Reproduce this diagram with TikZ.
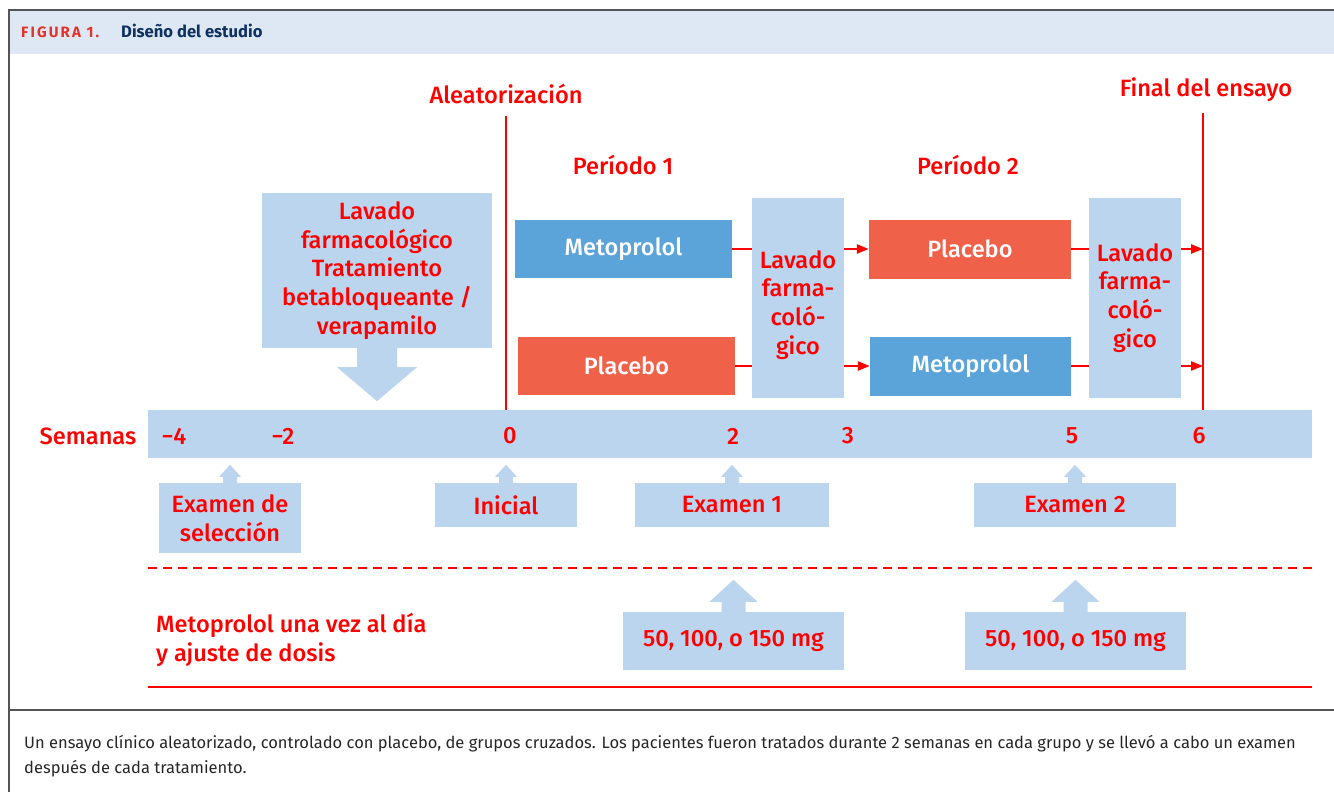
\documentclass[tikz,border=0pt]{standalone}
\usepackage{fontspec}
\setmainfont{Fira Sans}
\newfontfamily\medfont{Fira Sans Medium}
\usetikzlibrary{positioning, arrows.meta, calc}

\definecolor{rojo}{RGB}{255,0,0}
\definecolor{figrojo}{RGB}{228,49,43}
\definecolor{marino}{RGB}{14,50,96}
\definecolor{lav}{RGB}{188,213,238}
\definecolor{azul}{RGB}{91,164,218}
\definecolor{naranja}{RGB}{240,97,74}
\definecolor{cabecera}{RGB}{221,232,244}
\definecolor{marco}{RGB}{85,85,85}

\begin{document}
\begin{tikzpicture}[
    x=1pt, y=-1pt,
    txt/.style={font=\medfont\fontsize{23.6}{28.8}\selectfont, text=rojo, align=center, inner sep=0pt},
    block/.style={rectangle, fill=lav, txt},
    meto/.style={block, fill=azul, text=white},
    plac/.style={block, fill=naranja, text=white},
    redl/.style={draw=rojo, line width=2.5pt},
    arr/.style={redl, -{Triangle[length=12pt, width=9pt]}},
]
\clip (0,0) rectangle (1334,792);

% Frame and header
\fill[cabecera] (10,11) rectangle (1334,54);
\draw[marco, line width=2pt] (9,800) -- (9,10) -- (1340,10);
\draw[marco, line width=2pt] (9,710) -- (1340,710);
\node[anchor=base west, inner sep=0pt, text=figrojo,
      font=\fontsize{15}{15}\selectfont\bfseries\addfontfeature{LetterSpace=14}] (fig) at (21,38) {FIGURA 1.};
\node[anchor=base west, inner sep=0pt, text=marino,
      font=\fontsize{16.6}{16}\selectfont\bfseries] (tit) at (121,38) {Diseño del estudio};

% Timeline
\node[block, minimum width=1164pt, minimum height=48pt] (bar) at (730,434) {};
\node[txt] (sem) at (88,436) {Semanas};
\foreach \x/\t [count=\i] in {174/−4, 283/−2, 510/0, 733/2, 848/3, 1072/5, 1199/6}
    \node[txt] (w\i) at (\x,436) {\t};

% Randomisation and end of trial
\node[txt] (ale) at (506,94) {Aleatorización};
\node[txt] (fin) at (1206,90) {Final del ensayo};
\coordinate (a0) at (506,116);
\coordinate (f0) at (1203,113);
\draw[redl] (a0) -- (a0 |- bar.north);
\draw[redl] (f0) -- (f0 |- bar.north);

\node[txt] (per1) at (623,165) {Período 1};
\node[txt] (per2) at (968,165) {Período 2};

% Washout before randomisation
\node[block, minimum width=230pt, minimum height=155pt] (lav0) at (377,270.5)
    {Lavado\\farmacológico\\Tratamiento\\betabloqueante /\\verapamilo};
\fill[lav] ($(lav0.south)+(-20,0)$) -- ++(0,19) -- ++(-20,0) -- ++(40,34)
    -- ++(40,-34) -- ++(-20,0) -- ++(0,-19) -- cycle;

% Treatment periods
\node[meto, minimum width=217pt, minimum height=58pt] (m1) at (623.5,249) {Metoprolol};
\node[plac, minimum width=217pt, minimum height=58pt] (p1) at (626.5,366) {Placebo};
\node[block, minimum width=92pt, minimum height=200pt] (lav1) at (798,298) {};
\node[txt] (lav1t) at ($(lav1)+(0,7)$) {Lavado\\farma-\\coló-\\gico};
\node[plac, minimum width=202pt, minimum height=59pt] (p2) at (970,249) {Placebo};
\node[meto, minimum width=201pt, minimum height=59pt] (m2) at (970.5,366) {Metoprolol};
\node[block, minimum width=92pt, minimum height=200pt] (lav2) at (1135,298) {};
\node[txt] (lav2t) at ($(lav2)+(0,0)$) {Lavado\\farma-\\coló-\\gico};

\draw[redl] (m1.east) -- (m1.east -| lav1.west);
\draw[arr] (m1.east -| lav1.east) -- (p2.west);
\draw[redl] (p1.east) -- (p1.east -| lav1.west);
\draw[arr] (p1.east -| lav1.east) -- (m2.west);
\draw[redl] (p2.east) -- (p2.east -| lav2.west);
\draw[arr] (p2.east -| lav2.east) -- (p2.east -| f0);
\draw[redl] (m2.east) -- (m2.east -| lav2.west);
\draw[arr] (m2.east -| lav2.east) -- (m2.east -| f0);

% Examinations
\node[block, minimum width=142pt, minimum height=70pt] (sel) at (230,518) {Examen de\\selección};
\node[block, minimum width=142pt, minimum height=44pt] (ini) at (506,505) {Inicial};
\node[block, minimum width=194pt, minimum height=44pt] (ex1) at (732,505) {Examen 1};
\node[block, minimum width=202pt, minimum height=44pt] (ex2) at (1075,505) {Examen 2};
\foreach \n in {sel, ini, ex1, ex2}
    \fill[lav] ($(\n.north)+(-7,0)$) -- ++(0,-6) -- ++(-4,0) -- ++(11,-12)
        -- ++(11,12) -- ++(-4,0) -- ++(0,6) -- cycle;

% Dose titration
\coordinate (d0) at (148,568);
\coordinate (d1) at (148,687);
\draw[redl, dash pattern=on 9pt off 6pt] (d0) -- (d0 -| bar.east);
\draw[redl] (d1) -- (d1 -| bar.east);
\node[txt, align=left, anchor=west] (dosis) at (156,639.5) {Metoprolol una vez al día\\y ajuste de dosis};
\node[block, minimum width=221pt, minimum height=58pt] (dos1) at (733.5,641) {50, 100, o 150 mg};
\node[block, minimum width=221pt, minimum height=58pt] (dos2) at (1075.5,641) {50, 100, o 150 mg};
\foreach \n in {dos1, dos2}
    \fill[lav] ($(\n.north)+(-12,0)$) -- ++(0,-10) -- ++(-12,0) -- ++(24,-22)
        -- ++(24,22) -- ++(-12,0) -- ++(0,10) -- cycle;

% Caption
\node[anchor=north west, align=left, inner sep=0pt, text=black!85,
      font=\fontsize{16.5}{25}\selectfont] (cap) at (24,735)
    {Un ensayo clínico aleatorizado, controlado con placebo, de grupos cruzados. Los pacientes fueron tratados durante 2 semanas en cada grupo y se llevó a cabo un examen\\
     después de cada tratamiento.};

\end{tikzpicture}
\end{document}
